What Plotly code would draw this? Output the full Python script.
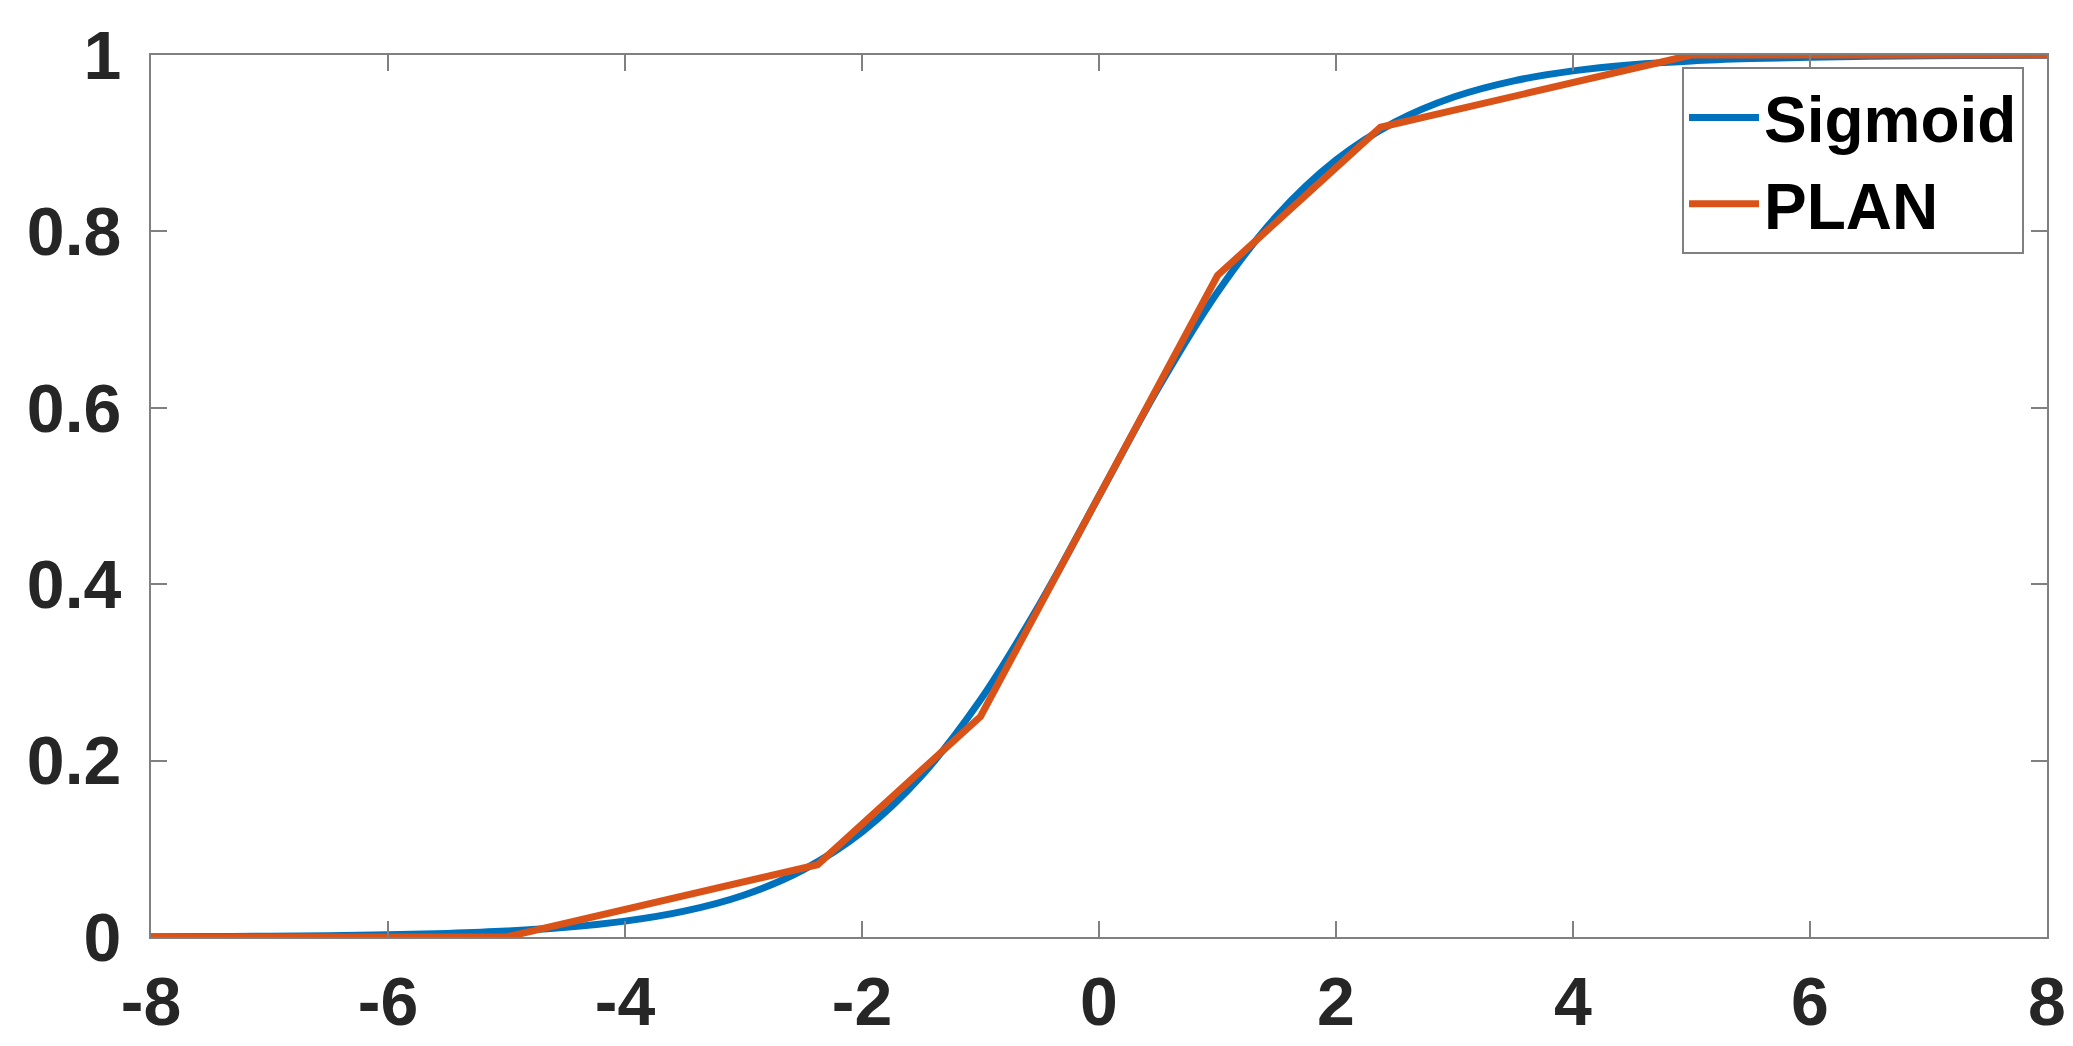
import plotly.graph_objects as go

# Sigmoid curve values
sig_x = [-8, -7.5, -7, -6.5, -6, -5.5, -5, -4.5, -4, -3.5, -3, -2.5, -2, -1.5, -1, -0.5,
         0, 0.5, 1, 1.5, 2, 2.5, 3, 3.5, 4, 4.5, 5, 5.5, 6, 6.5, 7, 7.5, 8]
sig_y = [0.0003, 0.0006, 0.0009, 0.0015, 0.0025, 0.0041, 0.0067, 0.0110, 0.0180, 0.0293,
         0.0474, 0.0759, 0.1192, 0.1824, 0.2689, 0.3775, 0.5, 0.6225, 0.7311, 0.8176,
         0.8808, 0.9241, 0.9526, 0.9707, 0.9820, 0.9890, 0.9933, 0.9959, 0.9975, 0.9985,
         0.9991, 0.9994, 0.9997]

# PLAN piecewise linear approximation breakpoints
plan_x = [-8, -5, -2.375, -1, 1, 2.375, 5, 8]
plan_y = [0, 0, 0.082, 0.25, 0.75, 0.918, 1, 1]

x_ticks = [-8, -6, -4, -2, 0, 2, 4, 6, 8]
x_labels = ["-8", "-6", "-4", "-2", "0", "2", "4", "6", "8"]
y_ticks = [0, 0.2, 0.4, 0.6, 0.8, 1]
y_labels = ["0", "0.2", "0.4", "0.6", "0.8", "1"]

fig = go.Figure()
fig.add_trace(go.Scatter(x=sig_x, y=sig_y, mode="lines", name="Sigmoid",
                         line=dict(color="#0072BD", width=7, shape="spline")))
fig.add_trace(go.Scatter(x=plan_x, y=plan_y, mode="lines", name="PLAN",
                         line=dict(color="#D95319", width=7)))

axis_common = dict(showgrid=False, zeroline=False, showline=True, linecolor="#808080",
                   linewidth=2, mirror="ticks", ticks="inside", ticklen=16, tickwidth=2,
                   tickcolor="#808080", automargin=False,
                   tickfont=dict(family="Liberation Sans", size=68, color="#262626", weight="bold"))

fig.update_layout(
    width=2073, height=1046,
    margin=dict(l=143, r=34, t=47, b=117),
    plot_bgcolor="white", paper_bgcolor="white",
    showlegend=True,
    legend=dict(x=0.8075, y=0.986, xanchor="left", yanchor="top",
                bgcolor="white", bordercolor="#808080", borderwidth=2,
                font=dict(family="Liberation Sans", size=64, color="black", weight="bold"),
                tracegroupgap=0, itemwidth=70),
)
fig.update_xaxes(range=[-8, 8], tickvals=x_ticks, ticktext=x_labels, ticklabelstandoff=4, **axis_common)
fig.update_yaxes(range=[0, 1], tickvals=y_ticks, ticktext=y_labels, ticklabelstandoff=14, **axis_common)

fig.write_html("out.html")
